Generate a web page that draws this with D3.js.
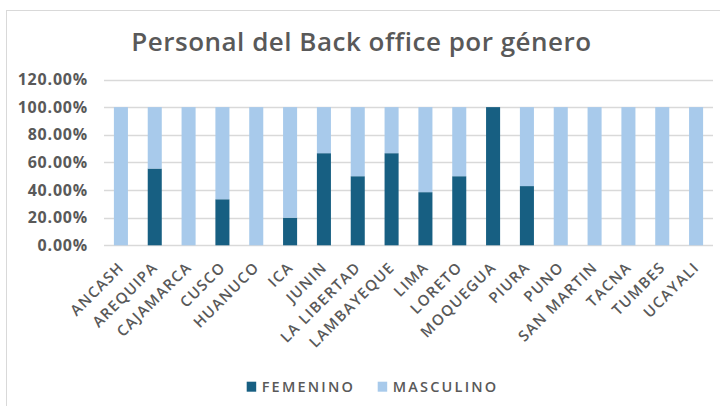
<!DOCTYPE html>
<html>
<head>
<meta charset="utf-8">
<script src="https://cdn.jsdelivr.net/npm/d3@7"></script>
<style>
  body { margin: 0; background: #fff; }
  text { font-family: "Open Sans", sans-serif; fill: #595959; }
</style>
</head>
<body>
<div id="chart"></div>
<script>
const regions = ["ANCASH", "AREQUIPA", "CAJAMARCA", "CUSCO", "HUANUCO", "ICA", "JUNIN",
  "LA LIBERTAD", "LAMBAYEQUE", "LIMA", "LORETO", "MOQUEGUA", "PIURA", "PUNO",
  "SAN MARTIN", "TACNA", "TUMBES", "UCAYALI"];
const femenino = [0, 0.5556, 0, 0.3333, 0, 0.2, 0.6667, 0.5, 0.6667, 0.3846, 0.5, 1, 0.4286, 0, 0, 0, 0, 0];
const masculino = femenino.map(v => 1 - v);
const yTicks = [0, 0.2, 0.4, 0.6, 0.8, 1.0, 1.2];
const seriesNames = ["FEMENINO", "MASCULINO"];
const colors = ["#175f82", "#a8caeb"];

const width = 720, height = 406;
const margin = {top: 79.5, right: 7, bottom: 160.7, left: 104};

const svg = d3.select("#chart").append("svg")
    .attr("width", width)
    .attr("height", height);

// outer chart border
svg.append("rect")
    .attr("x", 6.5).attr("y", 10.5)
    .attr("width", width).attr("height", height)
    .attr("fill", "none")
    .attr("stroke", "#d9d9d9");

svg.append("text")
    .attr("x", 361.5).attr("y", 51)
    .attr("text-anchor", "middle")
    .style("font-size", "26px")
    .style("font-weight", 600)
    .style("letter-spacing", "0.5px")
    .text("Personal del Back office por género");

const x = d3.scaleBand()
    .domain(regions)
    .range([margin.left, width - margin.right])
    .paddingInner(0.585)
    .paddingOuter(0.2925);

const y = d3.scaleLinear()
    .domain([0, 1.2])
    .range([height - margin.bottom, margin.top]);

// gridlines
svg.append("g")
  .selectAll("line")
  .data(yTicks)
  .join("line")
    .attr("x1", margin.left).attr("x2", width - margin.right)
    .attr("y1", d => Math.round(y(d)) + 0.5).attr("y2", d => Math.round(y(d)) + 0.5)
    .attr("stroke", "#d9d9d9")
    .attr("stroke-width", 1.3);

// y axis labels
const yAxis = svg.append("g")
    .attr("transform", `translate(${margin.left},0)`)
    .call(d3.axisLeft(y).tickValues(yTicks).tickFormat(d3.format(".2%")).tickSize(0).tickPadding(16));
yAxis.select(".domain").remove();
yAxis.selectAll("text")
    .style("font-size", "16px")
    .style("font-weight", 700)
    .style("letter-spacing", "0.8px")
    .attr("fill", "#595959");

// stacked bars
const rows = regions.map((r, i) => ({region: r, FEMENINO: femenino[i], MASCULINO: masculino[i]}));
const stacked = d3.stack().keys(seriesNames)(rows);

svg.append("g")
  .selectAll("g")
  .data(stacked)
  .join("g")
    .attr("fill", (d, i) => colors[i])
  .selectAll("rect")
  .data(d => d)
  .join("rect")
    .attr("x", d => x(d.data.region))
    .attr("width", x.bandwidth())
    .attr("y", d => y(d[1]))
    .attr("height", d => y(d[0]) - y(d[1]));

// x axis labels
const xAxis = svg.append("g")
    .attr("transform", `translate(0,${height - margin.bottom})`)
    .call(d3.axisBottom(x).tickSize(0).tickPadding(0));
xAxis.select(".domain").remove();
xAxis.selectAll("text")
    .attr("text-anchor", "end")
    .attr("dy", 0)
    .attr("transform", "translate(4,23) rotate(-45)")
    .style("font-size", "15px")
    .style("font-weight", 600)
    .style("letter-spacing", "1.3px")
    .attr("fill", "#595959");

// legend
const legend = svg.append("g");
const legendX = [246.7, 377.7];
seriesNames.forEach((name, i) => {
  legend.append("rect")
      .attr("x", legendX[i]).attr("y", 381.7)
      .attr("width", 9.5).attr("height", 10)
      .attr("fill", colors[i]);
  legend.append("text")
      .attr("x", legendX[i] + 15).attr("y", 391.7)
      .style("font-size", "14.5px")
      .style("font-weight", 600)
      .style("letter-spacing", "2.2px")
      .text(name);
});
</script>
</body>
</html>
